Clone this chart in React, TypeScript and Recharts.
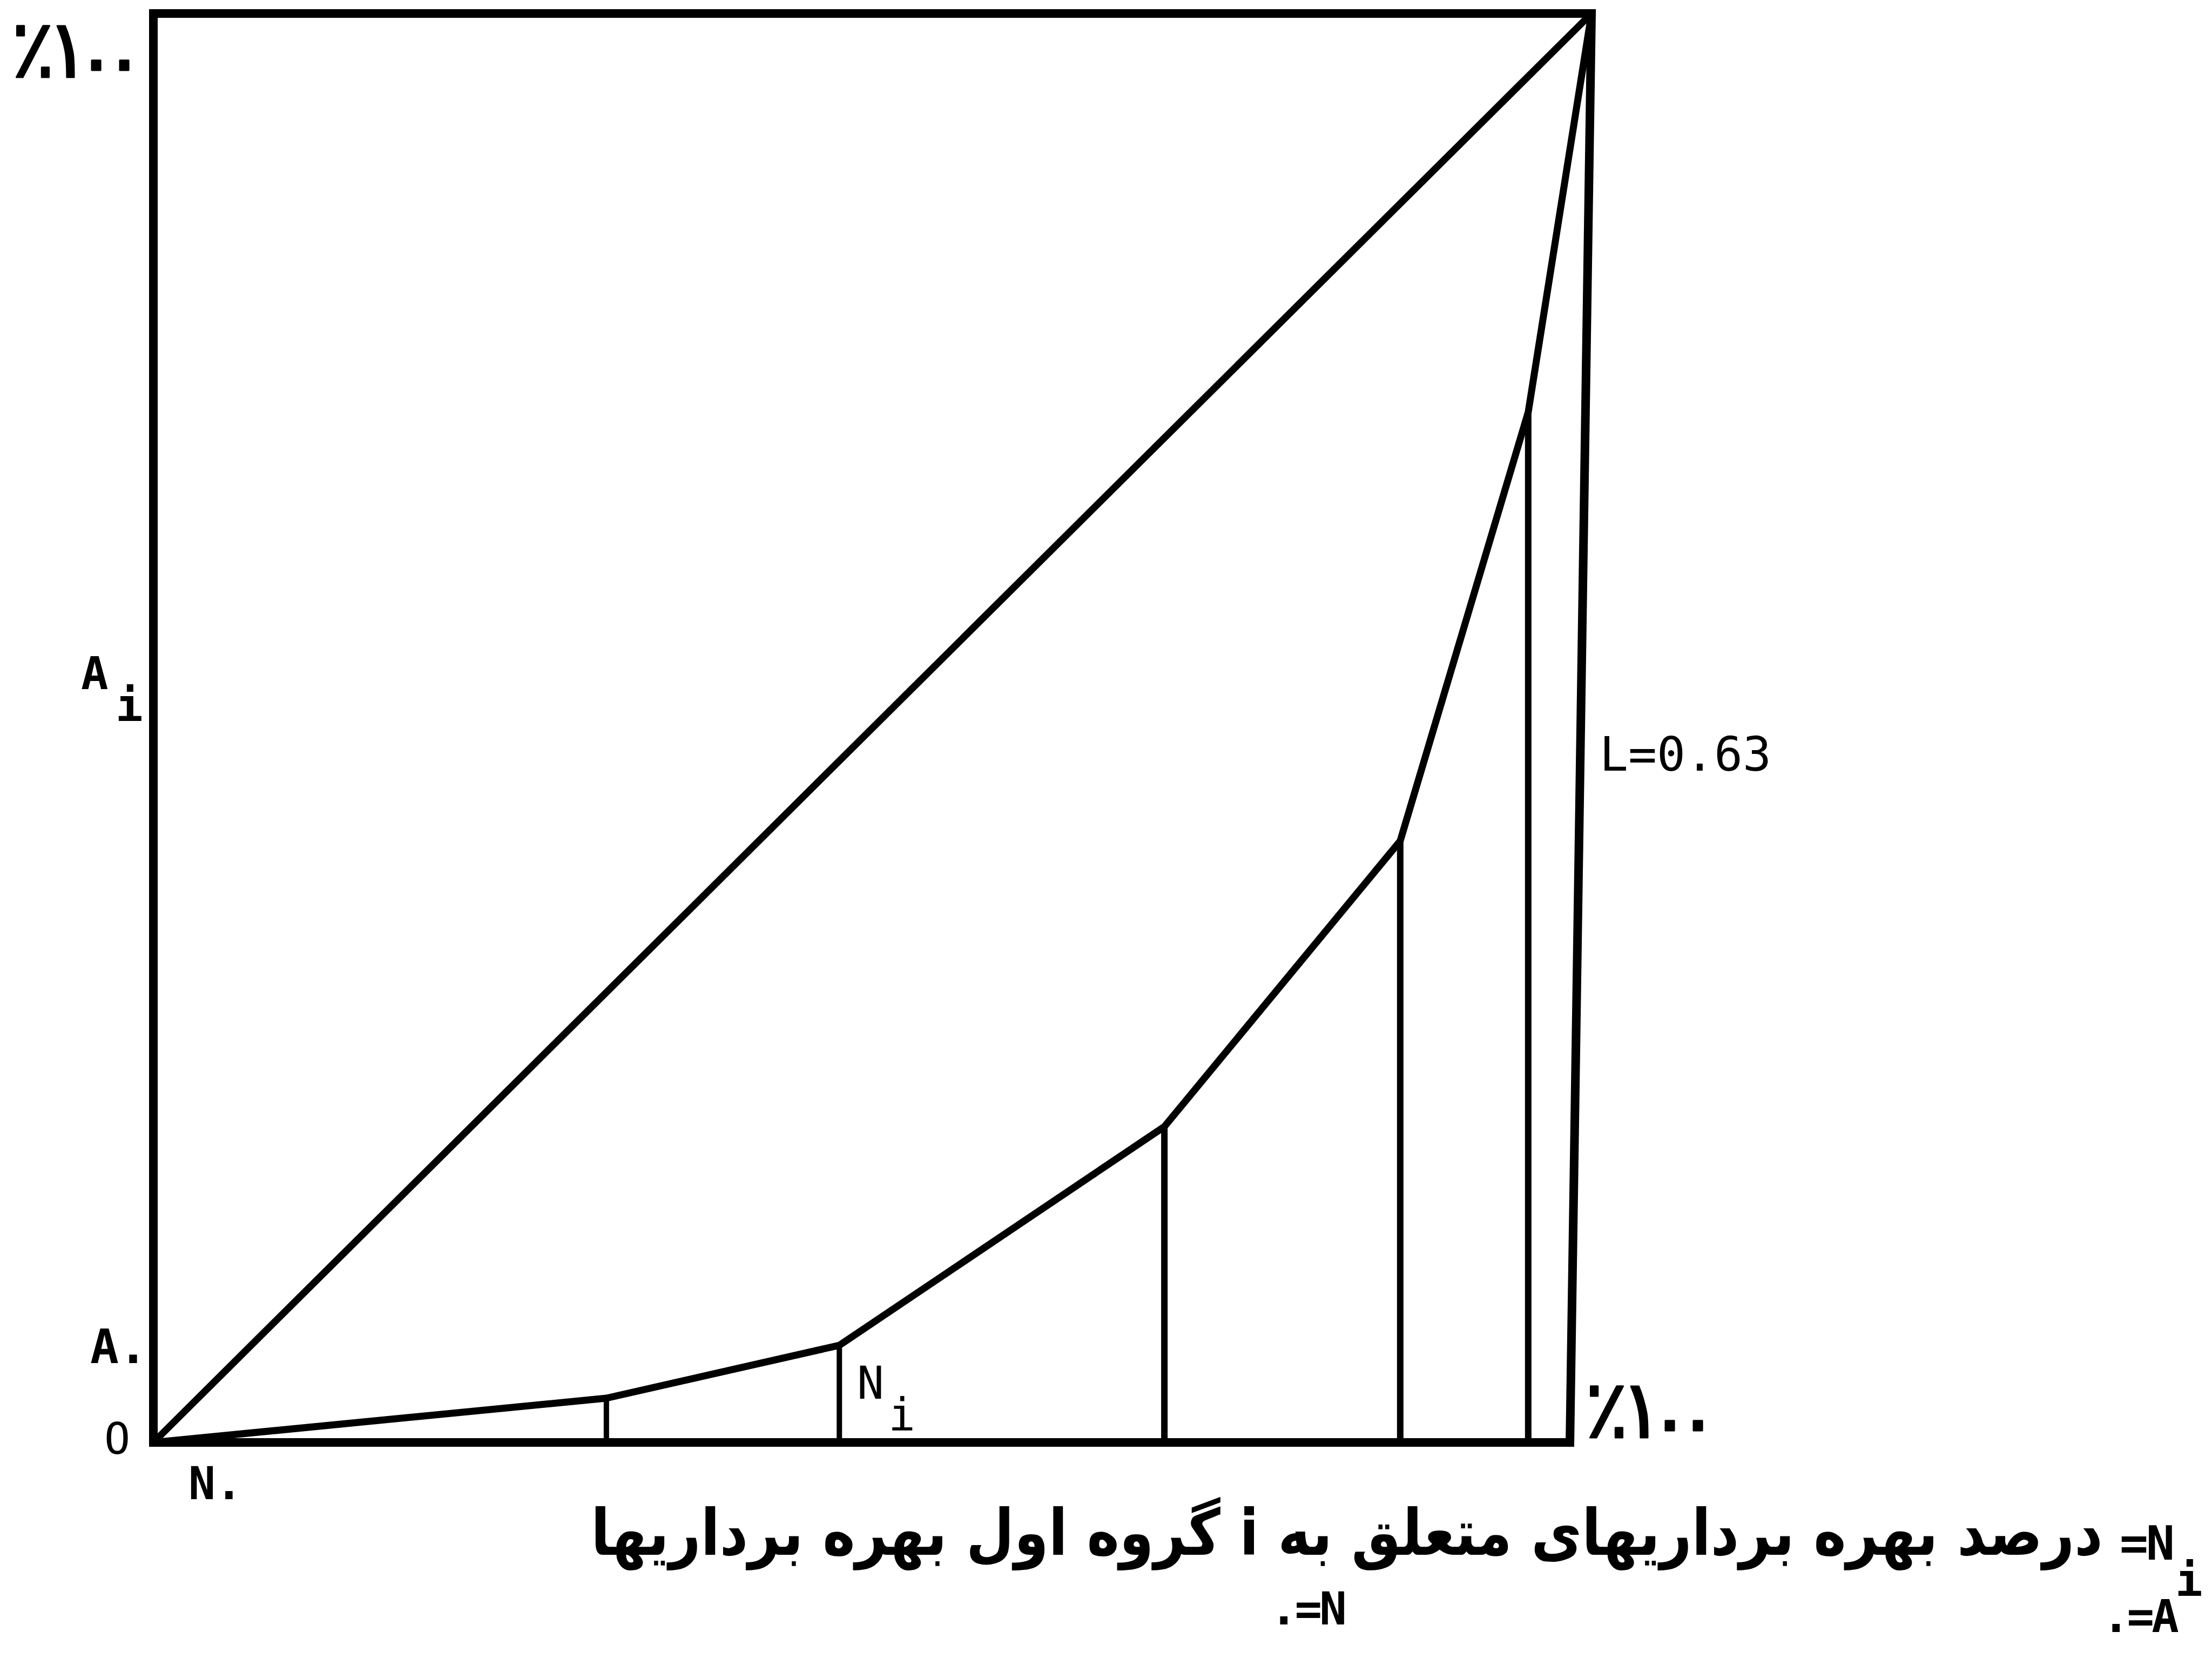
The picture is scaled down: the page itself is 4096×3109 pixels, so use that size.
import { useLayoutEffect, useRef, useState } from "react";
import { Line, LineChart, ReferenceLine, XAxis, YAxis } from "recharts";

// cumulative share of holders (N) and of land (A), in percent
const holderShare = [0, 31.5, 47.7, 70.3, 86.7, 95.6, 100];
const landShare = [0, 3.1, 6.8, 22.1, 42.1, 72.1, 100];

const equalityX = [0, 100];
const equalityY = [0, 100];

// hand-drawn frame: the right side leans a little
const frameX = [0, 0, 100, 98.5, 0];
const frameY = [0, 100, 100, 0, 0];

const lorenz = holderShare.map((x, i) => ({ x, y: landShare[i] }));
const equality = equalityX.map((x, i) => ({ x, y: equalityY[i] }));
const frame = frameX.map((x, i) => ({ x, y: frameY[i] }));

const W = 4096;
const H = 3109;
const mono = "'DejaVu Sans Mono', monospace";
const arabic = "'DejaVu Sans', sans-serif";

// typewriter "٪۱۰۰": each glyph placed on its own, zeros a little low
function Hundred({ x, y }: { x: number; y: number }) {
  const xs = [29, 94, 146, 198].map((d) => x + d).join(" ");
  const ys = [0, 0, 20, 20].map((d) => y + d).join(" ");
  return (
    <text
      x={xs}
      y={ys}
      textAnchor="middle"
      fontFamily={arabic}
      fontSize={150}
      stroke="#000"
      strokeWidth={3}
      strokeLinejoin="round"
    >
      ٪۱۰۰
    </text>
  );
}

// squeeze a line of text to a given width around its centre
function FittedText({
  cx,
  y,
  width,
  children,
  ...rest
}: {
  cx: number;
  y: number;
  width: number;
  children: string;
  [k: string]: unknown;
}) {
  const ref = useRef<SVGTextElement>(null);
  const [sx, setSx] = useState(1);
  useLayoutEffect(() => {
    if (ref.current) {
      const w = ref.current.getBBox().width;
      if (w > 0) setSx(width / w);
    }
  }, [width, children]);
  return (
    <text
      ref={ref}
      transform={`translate(${cx} ${y}) scale(${sx} 1)`}
      x={0}
      y={0}
      textAnchor="middle"
      {...rest}
    >
      {children}
    </text>
  );
}

function Labels() {
  return (
    <svg
      width={W}
      height={H}
      style={{ position: "absolute", left: 0, top: 0, pointerEvents: "none" }}
    >
      <g fill="#000">
        <Hundred x={32} y={143} />
        <Hundred x={2946} y={2662} />

        <text x={150} y={1276} fontFamily={mono} fontWeight="bold" fontSize={84}>A</text>
        <text x={214} y={1335} fontFamily={mono} fontWeight="bold" fontSize={84}>i</text>
        <text x={167} y={2524} fontFamily={mono} fontWeight="bold" fontSize={88}>A.</text>
        <text x={193} y={2692} fontFamily={mono} fontSize={80}>O</text>
        <text x={349} y={2776} fontFamily={mono} fontWeight="bold" fontSize={83}>N.</text>

        <text x={1587} y={2590} fontFamily={mono} fontSize={83}>N</text>
        <text x={1645} y={2649} fontFamily={mono} fontSize={83}>i</text>

        <text x={2962} y={1427} fontFamily={mono} fontSize={88}>L=0.63</text>

        <FittedText
          cx={2494}
          y={2879}
          width={2800}
          fontFamily={arabic}
          fontWeight="bold"
          fontSize={118}
          direction="rtl"
        >
          درصد بهره برداریهای متعلق به i گروه اول بهره برداریها
        </FittedText>
        <text x={3925} y={2888} fontFamily={mono} fontWeight="bold" fontSize={88} letterSpacing={-4}>=N</text>
        <text x={4028} y={2955} fontFamily={mono} fontWeight="bold" fontSize={84}>i</text>

        <text x={2352} y={3008} fontFamily={mono} fontWeight="bold" fontSize={84} letterSpacing={-5}>.=N</text>
        <text x={3893} y={3022} fontFamily={mono} fontWeight="bold" fontSize={84} letterSpacing={-5}>.=A</text>
      </g>
    </svg>
  );
}

export default function App() {
  return (
    <div
      style={{
        position: "absolute",
        left: 0,
        top: 0,
        width: W,
        height: H,
        background: "#fff",
        overflow: "hidden",
      }}
    >
      <LineChart
        width={W}
        height={H}
        margin={{ top: 25, left: 284, right: 1149, bottom: 438 }}
      >
        <XAxis type="number" dataKey="x" domain={[0, 100]} hide />
        <YAxis type="number" dataKey="y" domain={[0, 100]} hide />

        <Line
          data={frame}
          dataKey="y"
          stroke="#000"
          strokeWidth={16}
          strokeLinecap="square"
          strokeLinejoin="miter"
          dot={false}
          activeDot={false}
          isAnimationActive={false}
        />
        <Line
          data={equality}
          dataKey="y"
          stroke="#000"
          strokeWidth={13}
          dot={false}
          activeDot={false}
          isAnimationActive={false}
        />
        <Line
          data={lorenz}
          dataKey="y"
          stroke="#000"
          strokeWidth={13}
          strokeLinejoin="round"
          dot={false}
          activeDot={false}
          isAnimationActive={false}
        />
        {holderShare.slice(1, -1).map((n, i) => (
          <ReferenceLine
            key={n}
            segment={[
              { x: n, y: 0 },
              { x: n, y: landShare[i + 1] },
            ]}
            stroke="#000"
            strokeWidth={i < 2 ? 10 : 12}
          />
        ))}
      </LineChart>
      <Labels />
    </div>
  );
}
